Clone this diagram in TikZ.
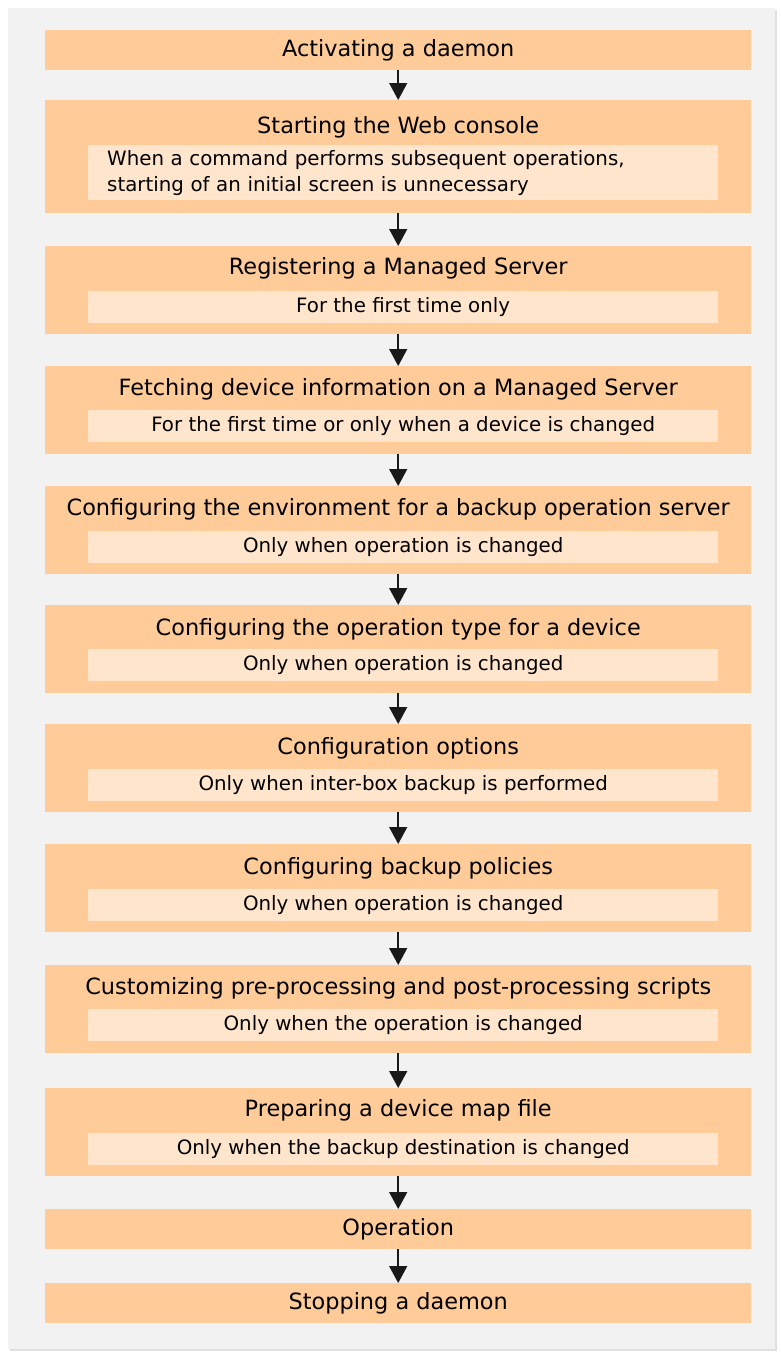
\documentclass[tikz,border=0pt]{standalone}
\usepackage{fontspec}
\setmainfont{DejaVu Sans}
\usetikzlibrary{arrows.meta,calc,positioning}
\definecolor{panelgray}{HTML}{F2F2F2}
\definecolor{stageorange}{HTML}{FFCC99}
\definecolor{noteorange}{HTML}{FFE5CC}
\newcommand{\titlefont}{\fontsize{22.4}{26}\selectfont}
\newcommand{\notefont}{\fontsize{19.8}{26}\selectfont}
\tikzset{stage/.style={
    fill=stageorange,
    minimum width=706pt,
    inner sep=0pt,
    anchor=north west
  },
  note/.style={
    fill=noteorange,
    minimum width=630pt,
    minimum height=32pt,
    inner sep=0pt,
    anchor=north west,
    font=\notefont
  },
  title/.style={font=\titlefont, inner sep=0pt},
  flow/.style={-{Triangle[width=18pt,length=17pt]}, line width=1.5pt, black!90}
}

\begin{document}
\begin{tikzpicture}[x=1pt,y=-1pt]
    \useasboundingbox (0,0) rectangle (781,1354);
    % panel
    \fill[black!12] (10,10) rectangle (777,1351);
    \fill[panelgray] (8,8) rectangle (775,1349);
    % steps
    \node[stage, minimum height=40pt] (s1) at (45,30) {};
    \node[title] (t1) at (s1.center) {Activating a daemon};
    \node[stage, minimum height=113pt] (s2) at (45,100) {};
    \node[title] (t2) at ($(s2.north)+(0,27)$) {Starting the Web console};
    \node[note, minimum height=55pt, inner xsep=19pt, text width=592pt, align=left] (n2) at (88,145)
        {When a command performs subsequent operations,\\starting of an initial screen is unnecessary};
    \node[stage, minimum height=88pt] (s3) at (45,246) {};
    \node[title] (t3) at ($(s3.north)+(0,22)$) {Registering a Managed Server};
    \node[note] (n3) at (88,291) {For the first time only};
    \node[stage, minimum height=88pt] (s4) at (45,366) {};
    \node[title] (t4) at ($(s4.north)+(0,23)$) {Fetching device information on a Managed Server};
    \node[note] (n4) at (88,410) {For the first time or only when a device is changed};
    \node[stage, minimum height=88pt] (s5) at (45,486) {};
    \node[title] (t5) at ($(s5.north)+(0,23)$) {Configuring the environment for a backup operation server};
    \node[note] (n5) at (88,531) {Only when operation is changed};
    \node[stage, minimum height=88pt] (s6) at (45,605) {};
    \node[title] (t6) at ($(s6.north)+(0,24)$) {Configuring the operation type for a device};
    \node[note] (n6) at (88,649) {Only when operation is changed};
    \node[stage, minimum height=88pt] (s7) at (45,724) {};
    \node[title] (t7) at ($(s7.north)+(0,24)$) {Configuration options};
    \node[note] (n7) at (88,769) {Only when inter-box backup is performed};
    \node[stage, minimum height=88pt] (s8) at (45,844) {};
    \node[title] (t8) at ($(s8.north)+(0,24)$) {Configuring backup policies};
    \node[note] (n8) at (88,889) {Only when operation is changed};
    \node[stage, minimum height=88pt] (s9) at (45,965) {};
    \node[title] (t9) at ($(s9.north)+(0,23)$) {Customizing pre-processing and post-processing scripts};
    \node[note] (n9) at (88,1009) {Only when the operation is changed};
    \node[stage, minimum height=88pt] (s10) at (45,1088) {};
    \node[title] (t10) at ($(s10.north)+(0,22)$) {Preparing a device map file};
    \node[note] (n10) at (88,1133) {Only when the backup destination is changed};
    \node[stage, minimum height=40pt] (s11) at (45,1209) {};
    \node[title] (t11) at (s11.center) {Operation};
    \node[stage, minimum height=40pt] (s12) at (45,1283) {};
    \node[title] (t12) at (s12.center) {Stopping a daemon};
    % arrows
    \foreach \a/\b in {s1/s2,s2/s3,s3/s4,s4/s5,s5/s6,s6/s7,s7/s8,s8/s9,s9/s10,s10/s11,s11/s12}
        \draw[flow] (\a.south) -- (\b.north);
\end{tikzpicture}
\end{document}
